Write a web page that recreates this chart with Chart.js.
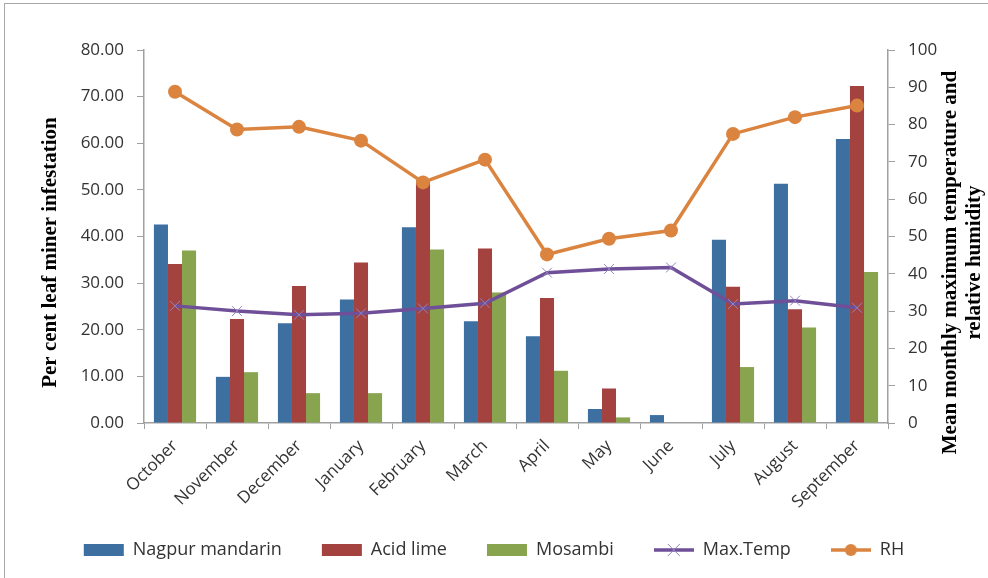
<!DOCTYPE html>
<html>
<head>
<meta charset="utf-8">
<script src="https://cdn.jsdelivr.net/npm/chart.js@4.4.1/dist/chart.umd.min.js"></script>
<style>
  html, body { margin: 0; padding: 0; background: #fff; overflow: hidden; }
  #wrap { position: relative; width: 988px; height: 578px; }
  #frame { position: absolute; left: 4px; top: 3px; right: -10px; bottom: -10px;
           border-left: 1.5px solid #a8a8a8; border-top: 1.5px solid #a8a8a8; pointer-events: none; }
</style>
</head>
<body>
<div id="wrap">
  <canvas id="grafico" width="988" height="578"></canvas>
  <div id="frame"></div>
</div>
<script>
var months = ['October', 'November', 'December', 'January', 'February', 'March',
              'April', 'May', 'June', 'July', 'August', 'September'];
var nagpurMandarin = [42.6, 9.9, 21.4, 26.5, 42.0, 21.8, 18.6, 3.0, 1.7, 39.3, 51.3, 60.9];
var acidLime = [34.1, 22.3, 29.4, 34.4, 52.0, 37.4, 26.8, 7.4, 0, 29.2, 24.4, 72.3];
var mosambi = [37.0, 10.9, 6.4, 6.4, 37.2, 28.0, 11.2, 1.2, 0, 12.0, 20.5, 32.4];
var maxTemp = [31.4, 30.0, 29.0, 29.4, 30.7, 32.1, 40.3, 41.3, 41.7, 31.9, 32.8, 30.9];
var rh = [88.8, 78.7, 79.4, 75.7, 64.5, 70.6, 45.2, 49.4, 51.6, 77.5, 82.0, 85.1];

var leftTitle = 'Per cent leaf miner infestation';
var rightTitle = ['Mean monthly maximum temperature and', 'relative humidity'];

var azul = '#3d6fa0', vermelho = '#a3423f', verde = '#88a44e', roxo = '#6e4f98', laranja = '#da8440';
var axisGray = '#a0a0a0';

// legend icons: line with marker
function iconeLinha(cor, marcador) {
    var c = document.createElement('canvas');
    c.width = 40; c.height = 16;
    var g = c.getContext('2d');
    g.strokeStyle = cor; g.lineWidth = 3.5;
    g.beginPath(); g.moveTo(0, 8); g.lineTo(40, 8); g.stroke();
    if (marcador === 'x') {
        g.strokeStyle = '#9484c0'; g.lineWidth = 1;
        g.beginPath();
        g.moveTo(14, 2); g.lineTo(26, 14);
        g.moveTo(26, 2); g.lineTo(14, 14);
        g.stroke();
    } else {
        g.fillStyle = cor;
        g.beginPath(); g.arc(20, 8, 6, 0, Math.PI * 2); g.fill();
    }
    return c;
}
var legendStyles = ['rect', 'rect', 'rect', iconeLinha(roxo, 'x'), iconeLinha(laranja, 'o')];

var titulosEixos = {
    id: 'titulosEixos',
    afterLayout: function (chart) {
        // let the rotated month labels run into the legend band without being clipped
        chart.scales.x.bottom = chart.height;
    },
    afterDraw: function (chart) {
        var ctx = chart.ctx, area = chart.chartArea;
        var meio = (area.top + area.bottom) / 2;
        ctx.save();
        ctx.fillStyle = '#000';
        ctx.font = 'bold 21px "Liberation Serif"';
        ctx.textAlign = 'center';
        ctx.textBaseline = 'middle';
        ctx.translate(51, meio + 16);
        ctx.rotate(-Math.PI / 2);
        ctx.fillText(leftTitle, 0, 0);
        ctx.restore();
        for (var i = 0; i < rightTitle.length; i++) {
            ctx.save();
            ctx.fillStyle = '#000';
            ctx.font = 'bold 21px "Liberation Serif"';
            ctx.textAlign = 'center';
            ctx.textBaseline = 'middle';
            ctx.translate(area.right + 63 + i * 24, meio + 26);
            ctx.rotate(-Math.PI / 2);
            ctx.fillText(rightTitle[i], 0, 0);
            ctx.restore();
        }
    }
};

var ctx = document.getElementById('grafico').getContext('2d');
var grafico = new Chart(ctx, {
    type: 'bar',
    data: {
        labels: months,
        datasets: [
            {
                label: 'Nagpur mandarin',
                data: nagpurMandarin,
                backgroundColor: azul,
                borderWidth: 0,
                yAxisID: 'y',
                order: 1
            },
            {
                label: 'Acid lime',
                data: acidLime,
                backgroundColor: vermelho,
                borderWidth: 0,
                yAxisID: 'y',
                order: 1
            },
            {
                label: 'Mosambi',
                data: mosambi,
                backgroundColor: verde,
                borderWidth: 0,
                yAxisID: 'y',
                order: 1
            },
            {
                type: 'line',
                label: 'Max.Temp',
                data: maxTemp,
                borderColor: roxo,
                backgroundColor: roxo,
                borderWidth: 3.5,
                tension: 0,
                pointStyle: 'crossRot',
                pointRadius: 7,
                pointBorderWidth: 1,
                pointBorderColor: '#9484c0',
                yAxisID: 'y1',
                order: 0
            },
            {
                type: 'line',
                label: 'RH',
                data: rh,
                borderColor: laranja,
                backgroundColor: laranja,
                borderWidth: 3.5,
                tension: 0,
                pointStyle: 'circle',
                pointRadius: 7,
                pointBorderWidth: 0,
                yAxisID: 'y1',
                order: 0
            }
        ]
    },
    options: {
        responsive: false,
        animation: false,
        devicePixelRatio: 1,
        layout: {
            padding: { top: 50, left: 0, right: 0, bottom: 9 }
        },
        datasets: {
            bar: { categoryPercentage: 0.68, barPercentage: 1.0 }
        },
        plugins: {
            tooltip: { enabled: false },
            legend: {
                position: 'bottom',
                labels: {
                    usePointStyle: true,
                    pointStyleWidth: 40,
                    boxWidth: 40,
                    boxHeight: 12,
                    padding: 40,
                    color: '#333',
                    font: { family: 'Open Sans', size: 18 },
                    sort: function (a, b) { return a.datasetIndex - b.datasetIndex; },
                    generateLabels: function (chart) {
                        var itens = Chart.defaults.plugins.legend.labels.generateLabels(chart);
                        itens.forEach(function (it) {
                            it.pointStyle = legendStyles[it.datasetIndex];
                            it.lineWidth = 0;
                        });
                        return itens;
                    }
                }
            }
        },
        scales: {
            x: {
                grid: { drawOnChartArea: false, offset: true, tickLength: 6, color: axisGray },
                border: { color: axisGray, width: 1.5 },
                ticks: {
                    autoSkip: false,
                    minRotation: 45,
                    maxRotation: 45,
                    padding: 7,
                    color: '#333',
                    font: { family: 'Open Sans', size: 17 }
                },
                afterFit: function (scale) { scale.height = 78; }
            },
            y: {
                position: 'left',
                min: 0,
                max: 80,
                grid: { drawOnChartArea: false, tickLength: 7, color: axisGray },
                border: { color: axisGray, width: 1.5 },
                ticks: {
                    stepSize: 10,
                    padding: 13,
                    color: '#333',
                    font: { family: 'Open Sans', size: 17 },
                    callback: function (v) { return v.toFixed(2); }
                },
                afterFit: function (scale) { scale.width = 144; }
            },
            y1: {
                position: 'right',
                min: 0,
                max: 100,
                grid: { drawOnChartArea: false, tickLength: 7, color: axisGray },
                border: { color: axisGray, width: 1.5 },
                ticks: {
                    stepSize: 10,
                    padding: 13,
                    color: '#333',
                    font: { family: 'Open Sans', size: 17 }
                },
                afterFit: function (scale) { scale.width = 100; }
            }
        }
    },
    plugins: [titulosEixos]
});
</script>
</body>
</html>
